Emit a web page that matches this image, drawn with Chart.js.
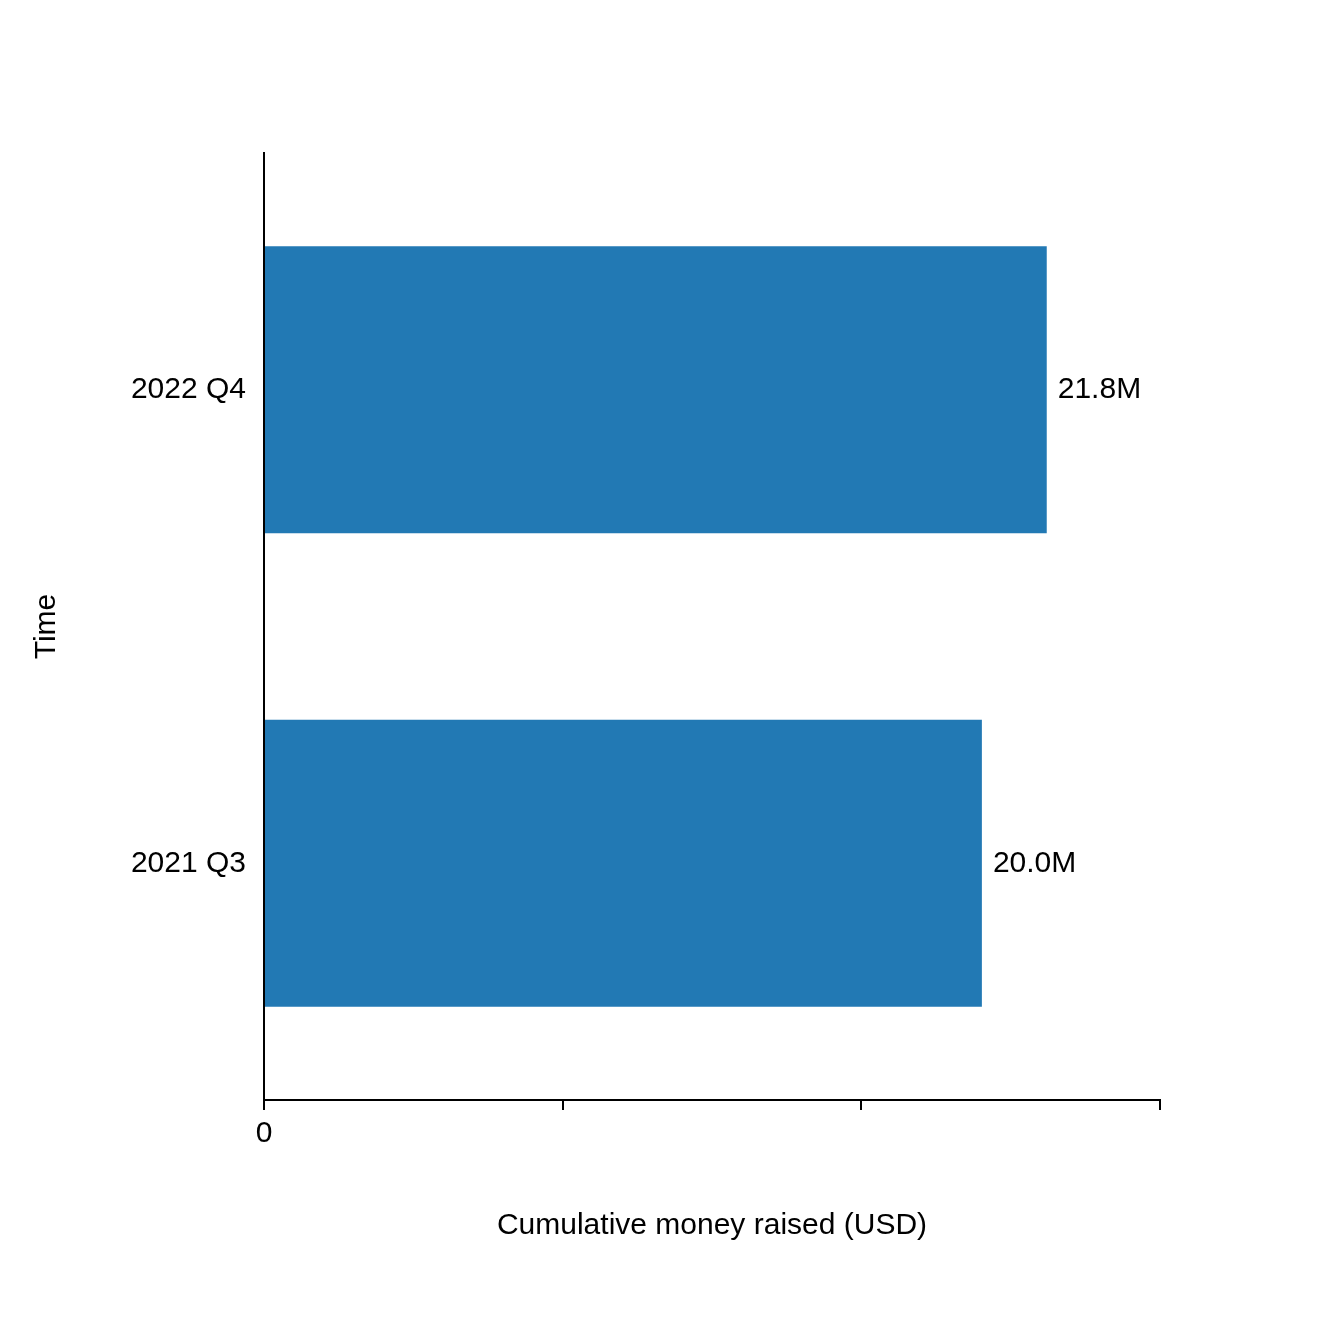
<!DOCTYPE html>
<html><head><meta charset="utf-8">
<script src="https://cdn.jsdelivr.net/npm/chart.js@4"></script>
<style>html,body{margin:0;padding:0;background:#fff}#w{width:1320px;height:1320px}</style>
</head><body><div id="w"><canvas id="c"></canvas></div>
<script>
const categories = ["2022 Q4", "2021 Q3"];
const values = [21.84e6, 20.03e6];
const valueLabels = ["21.8M", "20.0M"];
const xTicks = {0: "0", 10000000: "10M", 20000000: "20M"};
const FONT = "'Liberation Sans', Arial, sans-serif";

const extras = {
  id: 'extras',
  afterDraw(chart) {
    const ctx = chart.ctx, a = chart.chartArea;
    ctx.save();
    ctx.fillStyle = '#000';
    ctx.font = '30px ' + FONT;
    ctx.textBaseline = 'middle';
    const meta = chart.getDatasetMeta(0);
    meta.data.forEach((b, i) => {
      ctx.textAlign = 'left';
      ctx.fillText(valueLabels[i], b.x + 11, b.y);
    });
    ctx.textAlign = 'center';
    ctx.fillText('Cumulative money raised (USD)', (a.left + a.right) / 2, 1226);
    ctx.translate(47, (a.top + a.bottom) / 2);
    ctx.rotate(-Math.PI / 2);
    ctx.fillText('Time', 0, 0);
    ctx.restore();
  }
};

new Chart(document.getElementById('c'), {
  type: 'bar',
  data: { labels: categories, datasets: [{ data: values, backgroundColor: '#2279b4', barPercentage: 0.606, categoryPercentage: 1 }] },
  options: {
    indexAxis: 'y', responsive: true, maintainAspectRatio: false, animation: false,
    layout: { padding: { left: 0, top: 153, right: 160, bottom: 0 } },
    plugins: { legend: { display: false }, tooltip: { enabled: false } },
    scales: {
      x: {
        min: 0, max: 25e6,
        ticks: { stepSize: 10e6, color: '#000', font: { size: 30, family: FONT }, padding: 6,
                 callback: v => xTicks[v] ?? '' },
        grid: { drawOnChartArea: false, tickLength: 10, color: '#000', lineWidth: 2 },
        border: { color: '#000', width: 2 },
        afterFit: s => { s.height = 220; }
      },
      y: {
        ticks: { color: '#000', font: { size: 30, family: FONT }, padding: 18 },
        grid: { drawOnChartArea: false, drawTicks: false, tickLength: 0 },
        border: { color: '#000', width: 2 },
        afterFit: s => { s.width = 264; }
      }
    }
  },
  plugins: [extras]
});
</script></body></html>
